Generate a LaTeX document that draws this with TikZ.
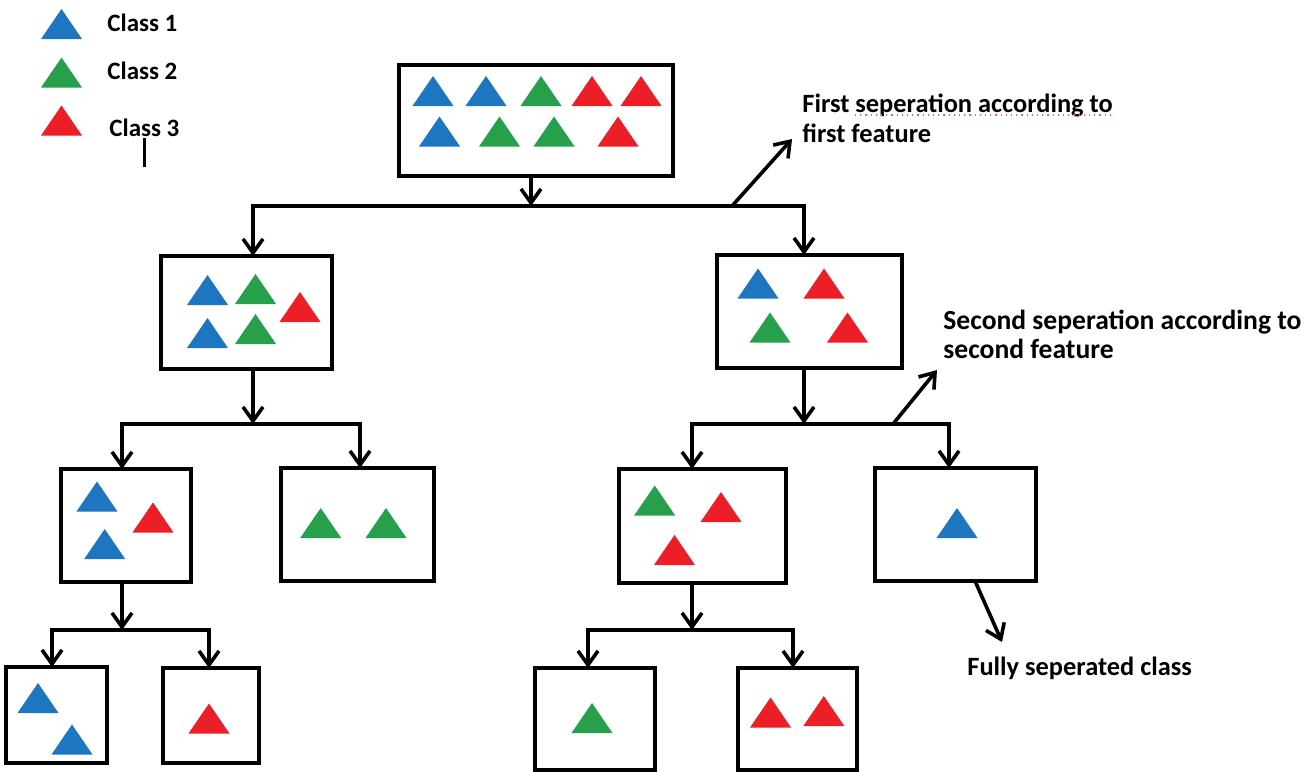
\documentclass[tikz,border=0pt]{standalone}
\usepackage{fontspec}
\setmainfont{Carlito}
\usetikzlibrary{arrows.meta}
\definecolor{cblue}{RGB}{30,118,192}
\definecolor{cgreen}{RGB}{38,160,74}
\definecolor{cred}{RGB}{236,30,38}
\newcommand\mytri[3]{\fill[#1] ({#2-20.5},{#3+15}) -- (#2,{#3-15}) -- ({#2+20.5},{#3+15}) -- cycle;}
\begin{document}
\begin{tikzpicture}[x=0.5pt,y=-0.5pt,
  box/.style={draw, line width=2pt, inner sep=0pt, outer sep=0pt},
  arr/.style={line width=1.8pt, -{Straight Barb[length=7pt,width=10pt,line width=1.8pt]}},
  lbl/.style={font=\bfseries\fontsize{13.2pt}{15pt}\selectfont, inner sep=0pt, align=left},
  leg/.style={font=\bfseries\fontsize{12.5pt}{15pt}\selectfont, inner sep=0pt, anchor=base west}]
\path[use as bounding box, fill=white] (0,0) rectangle (1309,771);

% legend
\mytri{cblue}{61.5}{24}
\mytri{cgreen}{61.5}{72.5}
\mytri{cred}{61.5}{120.5}
\node[leg] (c1) at (107,31) {Class 1};
\node[leg] (c2) at (107,79) {Class 2};
\node[leg] (c3) at (109,136) {Class 3};
\draw[line width=1.3pt] (144.5,138) -- (144.5,167);

% boxes
\node[box, minimum width=137pt, minimum height=55.5pt] (root) at (536,120.5) {};
\node[box, minimum width=85.5pt, minimum height=56.5pt] (L) at (246.5,312.5) {};
\node[box, minimum width=92.5pt, minimum height=56.5pt] (R) at (809.5,311.5) {};
\node[box, minimum width=65pt, minimum height=56.5pt] (LL) at (126,525.5) {};
\node[box, minimum width=76.5pt, minimum height=56.5pt] (LR) at (357.5,524.5) {};
\node[box, minimum width=50.5pt, minimum height=48pt] (LLL) at (56.5,715) {};
\node[box, minimum width=48pt, minimum height=47.5pt] (LLR) at (211,715.5) {};
\node[box, minimum width=83.5pt, minimum height=57pt] (RL) at (702.5,526) {};
\node[box, minimum width=80.5pt, minimum height=56.5pt] (RR) at (955.5,524.5) {};
\node[box, minimum width=60pt, minimum height=51pt] (RLL) at (595,719) {};
\node[box, minimum width=59.5pt, minimum height=51pt] (RLR) at (797.5,719) {};

% triangles
\mytri{cblue}{433}{91}\mytri{cblue}{486}{91}\mytri{cgreen}{541}{91}\mytri{cred}{592}{91}\mytri{cred}{641}{91}
\mytri{cblue}{439.5}{131.5}\mytri{cgreen}{499.5}{131.5}\mytri{cgreen}{554}{131.5}\mytri{cred}{618}{131.5}
\mytri{cblue}{207.5}{290}\mytri{cgreen}{255.5}{289}\mytri{cred}{300}{307}\mytri{cblue}{207.5}{333}\mytri{cgreen}{255.5}{329}
\mytri{cblue}{758}{283.5}\mytri{cred}{824}{283.5}\mytri{cgreen}{770}{327.5}\mytri{cred}{847.5}{327.5}
\mytri{cblue}{97}{496.5}\mytri{cred}{153}{517.5}\mytri{cblue}{104.7}{544}
\mytri{cgreen}{320.7}{523}\mytri{cgreen}{386}{523}
\mytri{cblue}{38}{698}\mytri{cblue}{72}{739.5}
\mytri{cred}{209}{718.5}
\mytri{cgreen}{654.7}{500.5}\mytri{cred}{721}{507}\mytri{cred}{674.5}{550}
\mytri{cblue}{957}{523}
\mytri{cgreen}{592}{718}
\mytri{cred}{770.5}{712.5}\mytri{cred}{823.8}{711}

% junctions
\coordinate (j1) at (531,206);
\coordinate (j2) at (253,424);
\coordinate (j3) at (122,630);
\coordinate (j4) at (804,424);
\coordinate (j5) at (692,630);

\draw[arr] (root.south -| j1) -- (j1);
\draw[arr] (j1) -| (L.north -| 253,0);
\draw[arr] (j1) -| (R.north -| 804,0);

\draw[arr] (L.south -| j2) -- (j2);
\draw[arr] (j2) -| (LL.north -| 122,0);
\draw[arr] (j2) -| (LR.north -| 360,0);

\draw[arr] (LL.south -| j3) -- (j3);
\draw[arr] (j3) -| (LLL.north -| 52,0);
\draw[arr] (j3) -| (LLR.north -| 209,0);

\draw[arr] (R.south -| j4) -- (j4);
\draw[arr] (j4) -| (RL.north -| 692,0);
\draw[arr] (j4) -| (RR.north -| 949,0);

\draw[arr] (RL.south -| j5) -- (j5);
\draw[arr] (j5) -| (RLL.north -| 588,0);
\draw[arr] (j5) -| (RLR.north -| 793,0);

% annotation arrows
\coordinate (d1s) at (732,206);
\coordinate (d1e) at (792,139);
\coordinate (d2s) at (893,424);
\coordinate (d2e) at (937,370);
\coordinate (d3e) at (1002,642);
\draw[arr] (d1s) -- (d1e);
\draw[arr] (d2s) -- (d2e);
\draw[arr] (RR.south -| 975,0) -- (d3e);

% labels
\node[lbl, anchor=base west] (t1) at (802,142) {First seperation according to\\first feature};
\draw[cred!70, dotted, line width=0.6pt] (855,115) -- (1113,115);
\node[lbl, anchor=base west, font=\bfseries\fontsize{13.8pt}{14.5pt}\selectfont] (t2) at (943,358) {Second seperation according to\\second feature};
\node[lbl, anchor=base west] (t3) at (967,675) {Fully seperated class};
\end{tikzpicture}
\end{document}
